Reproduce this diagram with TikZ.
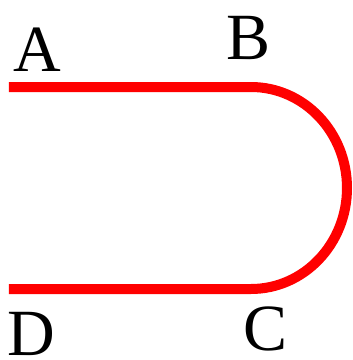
\documentclass[tikz,border=0pt]{standalone}
\usepackage{fontspec}
\setmainfont{Liberation Serif}
\begin{document}
\begin{tikzpicture}[x=1pt,y=-1pt,
  lbl/.style={inner sep=0pt,anchor=base,font=\fontsize{66}{66}\selectfont},
  track/.style={draw=red,line width=10pt}]
\useasboundingbox (0,0) rectangle (353,360);
\coordinate (a) at (9,87);
\coordinate (b) at (251,87);
\coordinate (c) at (251,289);
\coordinate (d) at (9,289);
\draw[track] (a) -- (b) arc[start angle=90,end angle=-90,x radius=96,y radius=-101] -- (d);
\node[lbl] (A) at (37,71) {A};
\node[lbl] (B) at (249,59) {B};
\node[lbl] (D) at (31,355) {D};
\node[lbl] (C) at (266,350) {C};
\end{tikzpicture}
\end{document}
